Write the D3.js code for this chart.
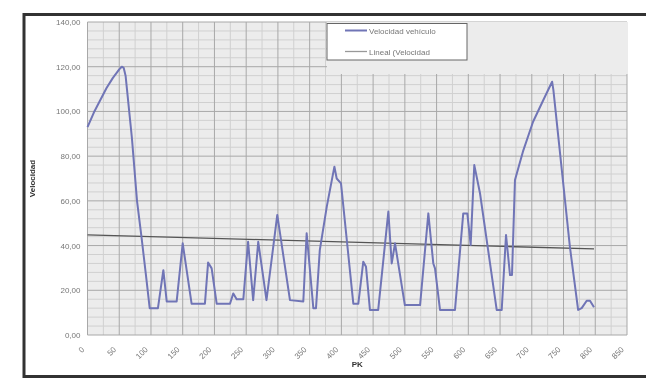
<!DOCTYPE html>
<html><head><meta charset="utf-8">
<script src="https://cdn.jsdelivr.net/npm/d3@7"></script>
<style>html,body{margin:0;padding:0;background:#fff;}svg{display:block;}</style>
</head><body>
<script>
// ---- data ----
const pk = [0,10,20,30,40,50,54,57,60,70,78,85,92,98,111,119.5,124.8,140.5,150,164,185,190,195.6,203.5,224.5,229.7,235,245.5,253,261,269,282,299,319,340,345.3,355.8,360,366,377,389,392.6,399.4,418.8,426.7,434.5,438.8,445,458,474,479.3,484.5,500,524,537,544.8,547.5,555.4,579,592,598.4,603.7,609.4,618.4,644.7,652.6,659.4,665.7,668.8,673.5,686,702,718,732,734,760,773,778.6,786.5,791.7,798];
const velocidad = [93,99.5,105,110.5,115,118.8,120,119.5,116,88,60,44,27,12,12,29,15,15,41,14,14,32.4,29.8,14,14,18.6,16,16,41.7,15.6,41.7,15.6,53.7,15.6,15,45.5,12,12,38,57.4,75.3,70,67.8,14,14,32.8,30.5,11.2,11.2,55.2,32,41,13.4,13.4,54.4,32,29.8,11.2,11.2,54.4,54.4,40.3,76,63.4,11.2,11.2,44.7,26.8,26.8,69.3,82,95.4,105,113.3,109.6,39.5,11.2,12,15.3,15.3,12.4];
const trendPk = [0, 798];
const trendVal = [44.8, 38.5];
const xTicks = [0,50,100,150,200,250,300,350,400,450,500,550,600,650,700,750,800,850];
const yTicks = [0,20,40,60,80,100,120,140];
const seriesNames = ["Velocidad vehículo", "Lineal (Velocidad"];
const xTitle = "PK", yTitle = "Velocidad";

// ---- layout ----
const W = 646, H = 383;
const L = 87.5, R = 627, T = 22, B = 335;
const svg = d3.select("body").append("svg").attr("width", W).attr("height", H);
const defs = svg.append("defs");
defs.append("filter").attr("id", "soft").append("feGaussianBlur").attr("stdDeviation", 0.45);
const root = svg.append("g").attr("filter", "url(#soft)");
const x = d3.scaleLinear().domain([0, 850]).range([L, R]);
const y = d3.scaleLinear().domain([0, 140]).range([B, T]);
const fmt = v => d3.format(".2f")(v).replace(".", ",");
const FONT = "Liberation Sans, Arial, sans-serif";

root.append("rect").attr("width", W).attr("height", H).attr("fill", "#fff");
// plot background
root.append("rect").attr("x", L).attr("y", T).attr("width", R - L).attr("height", B - T).attr("fill", "#ececec");

// minor grid
const minorX = d3.range(0, 851, 25).filter(v => v % 50 !== 0);
const minorY = d3.range(0, 141, 4).filter(v => v % 20 !== 0);
const g = root.append("g");
g.selectAll(".mx").data(minorX).join("line")
  .attr("x1", d => x(d)).attr("x2", d => x(d)).attr("y1", T).attr("y2", B)
  .attr("stroke", "#d0d0d0").attr("stroke-width", 1);
g.selectAll(".my").data(minorY).join("line")
  .attr("x1", L).attr("x2", R).attr("y1", d => y(d)).attr("y2", d => y(d))
  .attr("stroke", "#d0d0d0").attr("stroke-width", 1);
// major grid
g.selectAll(".Mx").data(xTicks).join("line")
  .attr("x1", d => x(d)).attr("x2", d => x(d)).attr("y1", T).attr("y2", B)
  .attr("stroke", "#a8a8a8").attr("stroke-width", 1);
g.selectAll(".My").data(yTicks).join("line")
  .attr("x1", L).attr("x2", R).attr("y1", d => y(d)).attr("y2", d => y(d))
  .attr("stroke", "#a8a8a8").attr("stroke-width", 1);

// grey patch top right (covers grid)
root.append("rect").attr("x", 327).attr("y", T).attr("width", R - 327 + 1).attr("height", 74 - T).attr("fill", "#ececec");

// trend line
root.append("path")
  .attr("d", d3.line().x((d, i) => x(trendPk[i])).y((d, i) => y(trendVal[i]))(trendPk))
  .attr("fill", "none").attr("stroke", "#555").attr("stroke-width", 1.3);

// series
root.append("path")
  .attr("d", d3.line().x((d, i) => x(pk[i])).y((d, i) => y(velocidad[i]))(pk))
  .attr("fill", "none").attr("stroke", "#7074b6").attr("stroke-width", 2).attr("stroke-linejoin", "round");

// y axis labels
const yAxis = d3.axisLeft(y).tickValues(yTicks).tickFormat(fmt).tickSize(0).tickPadding(7);
const ya = root.append("g").attr("transform", `translate(${L},0)`).call(yAxis);
ya.select(".domain").remove();
ya.selectAll("text").attr("font-family", FONT).attr("font-size", 8).attr("fill", "#777");

// x axis labels
const xAxis = d3.axisBottom(x).tickValues(xTicks).tickFormat(d3.format("d")).tickSize(0).tickPadding(0);
const xa = root.append("g").attr("transform", `translate(0,${B})`).call(xAxis);
xa.select(".domain").remove();
xa.selectAll("text")
  .attr("font-family", FONT).attr("font-size", 8).attr("fill", "#777")
  .attr("text-anchor", "end").attr("dy", 0)
  .attr("transform", "translate(-3,15) rotate(-45)");

// axis titles
root.append("text").attr("x", x(425)).attr("y", 367).attr("text-anchor", "middle")
  .attr("font-family", FONT).attr("font-size", 8).attr("font-weight", "bold").attr("fill", "#333").text(xTitle);
root.append("text").attr("transform", `translate(35,${(T + B) / 2}) rotate(-90)`).attr("text-anchor", "middle")
  .attr("font-family", FONT).attr("font-size", 8).attr("font-weight", "bold").attr("fill", "#333").text(yTitle);

// legend
const lg = root.append("g");
lg.append("rect").attr("x", 327).attr("y", 23.5).attr("width", 140).attr("height", 36.5)
  .attr("fill", "#fff").attr("stroke", "#666").attr("stroke-width", 1);
const lcol = ["#7074b6", "#999"];
const lw = [2, 1.3];
seriesNames.forEach((n, i) => {
  const yy = 30.5 + i * 21;
  lg.append("line").attr("x1", 345).attr("x2", 367).attr("y1", yy).attr("y2", yy).attr("stroke", lcol[i]).attr("stroke-width", lw[i]);
  lg.append("text").attr("x", 369).attr("y", yy + 3).attr("font-family", FONT)
    .attr("font-size", 8).attr("fill", "#777").text(n);
});

// frame
root.append("path").attr("d", `M${W},14.5 L24,14.5 L24,376.5 L${W},376.5`)
  .attr("fill", "none").attr("stroke", "#333").attr("stroke-width", 3);
</script>
</body></html>
